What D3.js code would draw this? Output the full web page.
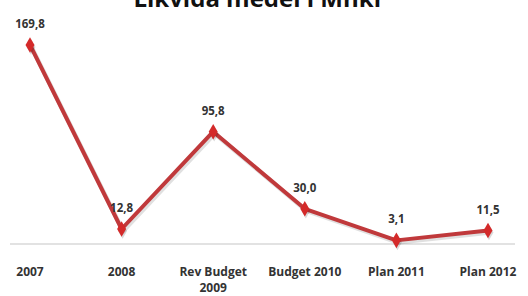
<!DOCTYPE html>
<html>
<head>
<meta charset="utf-8">
<script src="https://cdn.jsdelivr.net/npm/d3@7"></script>
<style>
  body { margin: 0; background: #fff; }
  svg { display: block; font-family: 'Open Sans', 'Liberation Sans', sans-serif; }
</style>
</head>
<body>
<svg width="528" height="296"></svg>
<script>
// Data
const categories = ['2007', '2008', 'Rev Budget 2009', 'Budget 2010', 'Plan 2011', 'Plan 2012']
const tickLines = [['2007'], ['2008'], ['Rev Budget', '2009'], ['Budget 2010'], ['Plan 2011'], ['Plan 2012']]
const values = [169.8, 12.8, 95.8, 30.0, 3.1, 11.5]
const valueLabels = ['169,8', '12,8', '95,8', '30,0', '3,1', '11,5']

let svg = d3.select('svg')

const red = '#c0393b'

const x = d3.scalePoint().domain(categories).range([30, 488])
const y = d3.scaleLinear().domain([0, 180]).range([244, 33])

// Title (cut off at the top like the original)
svg.append('text')
  .attr('x', 259)
  .attr('y', 7)
  .attr('text-anchor', 'middle')
  .attr('font-size', 24)
  .attr('font-weight', 'bold')
  .attr('fill', '#111')
  .text('Likvida medel i Mnkr')

// Axis line
svg.append('line')
  .attr('x1', 10).attr('x2', 515)
  .attr('y1', y(0)).attr('y2', y(0))
  .attr('stroke', '#d9d9d9')
  .attr('stroke-width', 1.5)

// Tick labels
const ticks = svg.append('g')
  .selectAll('text')
  .data(categories)
  .enter()
  .append('text')
  .attr('x', d => x(d))
  .attr('y', 276)
  .attr('text-anchor', 'middle')
  .attr('font-size', 12)
  .attr('font-weight', 'bold')
  .attr('fill', '#333')
ticks.selectAll('tspan')
  .data((d, i) => tickLines[i])
  .enter()
  .append('tspan')
  .attr('x', function () { return this.parentNode.getAttribute('x') })
  .attr('dy', (d, i) => (i === 0 ? 0 : 16))
  .text(d => d)

const pts = categories.map((c, i) => ({ c, v: values[i], label: valueLabels[i] }))

// Shadow
const line = d3.line().x(d => x(d.c)).y(d => y(d.v))
svg.append('path')
  .datum(pts)
  .attr('d', line)
  .attr('transform', 'translate(1.5,2)')
  .attr('fill', 'none')
  .attr('stroke', '#000')
  .attr('stroke-opacity', 0.12)
  .attr('stroke-width', 4.5)

svg.append('path')
  .datum(pts)
  .attr('d', line)
  .attr('fill', 'none')
  .attr('stroke', red)
  .attr('stroke-width', 4)
  .attr('stroke-linejoin', 'round')

// Markers
const diamond = d3.symbol().type(d3.symbolDiamond).size(70)
svg.append('g')
  .selectAll('path')
  .data(pts)
  .enter()
  .append('path')
  .attr('d', diamond)
  .attr('transform', d => `translate(${x(d.c) + 1},${y(d.v) + 2})`)
  .attr('fill', '#000')
  .attr('fill-opacity', 0.15)
svg.append('g')
  .selectAll('path')
  .data(pts)
  .enter()
  .append('path')
  .attr('d', diamond)
  .attr('transform', d => `translate(${x(d.c)},${y(d.v)})`)
  .attr('fill', '#d42a2a')

// Value labels
svg.append('g')
  .selectAll('text')
  .data(pts)
  .enter()
  .append('text')
  .attr('x', d => x(d.c))
  .attr('y', d => y(d.v) - 17)
  .attr('text-anchor', 'middle')
  .attr('font-size', 11.5)
  .attr('font-weight', 'bold')
  .attr('fill', '#333')
  .text(d => d.label)
</script>
</body>
</html>
